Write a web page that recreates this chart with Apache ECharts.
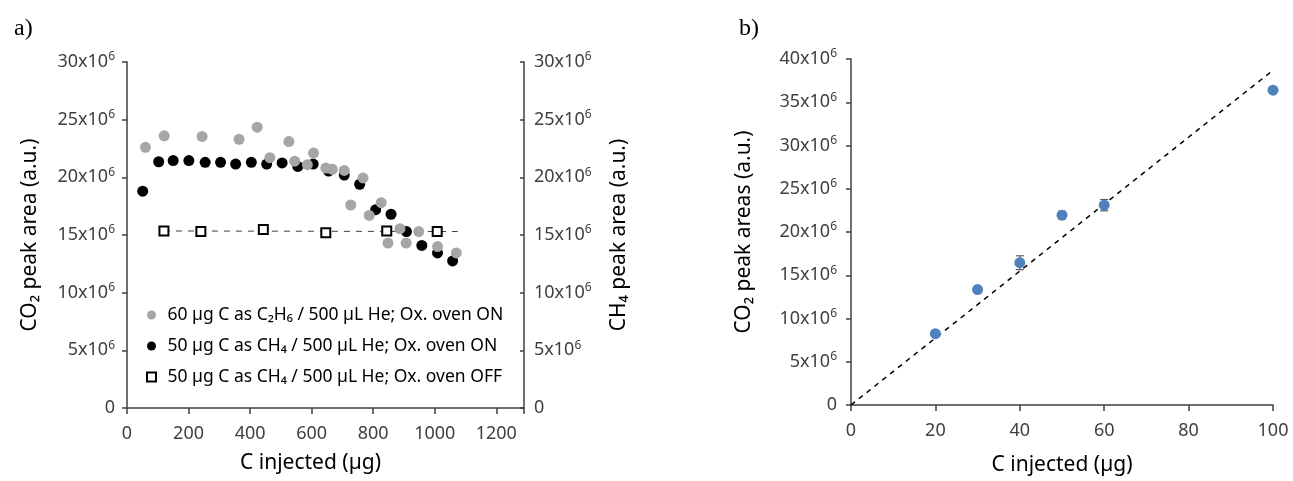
<!DOCTYPE html>
<html><head><meta charset="utf-8">
<script src="https://cdn.jsdelivr.net/npm/echarts@6/dist/echarts.min.js"></script>
<style>html,body{margin:0;padding:0;background:#fff}#c{width:1293px;height:481px}</style>
</head><body><div id="c"></div>
<script>
// ---- Panel a) data (x: µg C injected, y: peak area in 10^6 a.u.) ----
const c2h6X = [60,121,244,364,423,464,526,545,586,606,646,667,706,767,727,787,826,887,848,907,948,1009,1070];
const c2h6Y = [22.6,23.6,23.55,23.3,24.35,21.7,23.1,21.4,21.1,22.1,20.8,20.7,20.6,19.95,17.6,16.7,17.8,15.55,14.3,14.3,15.3,14.0,13.45];
const ch4OnX = [51,103,150,201,254,304,353,404,454,504,555,605,655,706,756,808,858,908,958,1009,1058];
const ch4OnY = [18.8,21.35,21.45,21.45,21.3,21.3,21.15,21.3,21.15,21.25,20.95,21.15,20.55,20.2,19.4,17.2,16.8,15.3,14.1,13.45,12.75];
const ch4OffX = [120,240,443,646,844,1008];
const ch4OffY = [15.35,15.3,15.47,15.2,15.35,15.3];
const ch4OffTrendX = [120,1075];
const ch4OffTrendY = [15.35,15.3];
const leftTicks = [0,5,10,15,20,25,30];
const xTicksA = [0,200,400,600,800,1000,1200];
// ---- Panel b) data ----
const bX = [20,30,40,50,60,100];
const bY = [8.25,13.35,16.45,21.95,23.1,36.4];
const bErr = [0.3,0.2,0.8,0.45,0.65,0.2];
const bTrendX = [0,100];
const bTrendY = [0,38.7];
const leftTicksB = [0,5,10,15,20,25,30,35,40];

const zip = (xs, ys) => xs.map((x, i) => [x, ys[i]]);
const FONT = 'Noto Sans';
const AX = '#404040';
const fmtY = v => v === 0 ? '{m|0}' : '{m|' + v + 'x10}{s|6}';
const rich = {
  m: {fontFamily: FONT, fontSize: 18, color: AX, lineHeight: 22},
  s: {fontFamily: FONT, fontSize: 12, color: AX, verticalAlign: 'top', lineHeight: 22, padding: [0, 0, 6, 0]}
};
const labelStyle = {fontFamily: FONT, fontSize: 18, color: AX};
const nameStyle = {fontFamily: FONT, fontSize: 21, color: '#000'};

const chart = echarts.init(document.getElementById('c'), null, {renderer: 'canvas'});
chart.setOption({
  animation: false,
  backgroundColor: '#fff',
  title: [
    {text: 'a)', left: 9, top: 12, textStyle: {fontFamily: 'Liberation Serif', fontSize: 24, fontWeight: 'normal', color: '#000'}},
    {text: 'b)', left: 734, top: 12, textStyle: {fontFamily: 'Liberation Serif', fontSize: 24, fontWeight: 'normal', color: '#000'}}
  ],
  grid: [
    {left: 127, top: 62, right: 769, bottom: 73},
    {left: 851, top: 59, right: 20, bottom: 74}
  ],
  legend: {
    orient: 'vertical', left: 141, top: 301, itemGap: 13, itemWidth: 22, itemHeight: 9,
    symbolKeepAspect: true,
    textStyle: {fontFamily: FONT, fontSize: 17.5, color: '#000'},
    data: [
      {name: '60 µg C as C₂H₆ / 500 µL He; Ox. oven ON', icon: 'circle'},
      {name: '50 µg C as CH₄ / 500 µL He; Ox. oven ON', icon: 'circle'},
      {name: '50 µg C as CH₄ / 500 µL He; Ox. oven OFF', icon: 'path://M0,0H10V10H0Z'}
    ]
  },
  xAxis: [
    {type: 'value', gridIndex: 0, min: 0, max: 1290, interval: 200,
     axisLine: {lineStyle: {color: AX, width: 1.5}}, axisTick: {length: 6, lineStyle: {color: AX, width: 1.5}},
     splitLine: {show: false},
     axisLabel: Object.assign({margin: 17, formatter: v => xTicksA.includes(v) ? String(v) : ''}, labelStyle),
     name: 'C injected (µg)', nameLocation: 'middle', nameGap: 45, nameTextStyle: Object.assign({padding: [0, 30, 0, 0]}, nameStyle)},
    {type: 'value', gridIndex: 1, min: 0, max: 100, interval: 20,
     axisLine: {lineStyle: {color: AX, width: 1.5}}, axisTick: {length: 6, lineStyle: {color: AX, width: 1.5}},
     splitLine: {show: false},
     axisLabel: Object.assign({margin: 17}, labelStyle),
     name: 'C injected (µg)', nameLocation: 'middle', nameGap: 50, nameTextStyle: nameStyle}
  ],
  yAxis: [
    {type: 'value', gridIndex: 0, min: leftTicks[0], max: leftTicks[leftTicks.length-1], interval: 5, position: 'left',
     axisLine: {show: true, lineStyle: {color: AX, width: 1.5}}, axisTick: {show: true, length: 5, lineStyle: {color: AX, width: 1.5}},
     splitLine: {show: false},
     axisLabel: {margin: 12, formatter: fmtY, rich: rich},
     name: 'CO₂ peak area (a.u.)', nameLocation: 'middle', nameGap: 86, nameTextStyle: nameStyle},
    {type: 'value', gridIndex: 0, min: leftTicks[0], max: leftTicks[leftTicks.length-1], interval: 5, position: 'right',
     axisLine: {show: true, lineStyle: {color: AX, width: 1.5}}, axisTick: {show: true, inside: true, length: 4, lineStyle: {color: AX, width: 1.5}},
     splitLine: {show: false},
     axisLabel: {margin: 10, formatter: fmtY, rich: rich},
     name: 'CH₄ peak area (a.u.)', nameLocation: 'middle', nameGap: 85, nameRotate: 90, nameTextStyle: nameStyle},
    {type: 'value', gridIndex: 1, min: leftTicksB[0], max: leftTicksB[leftTicksB.length-1], interval: 5,
     axisLine: {show: true, lineStyle: {color: AX, width: 1.5}}, axisTick: {show: true, length: 5, lineStyle: {color: AX, width: 1.5}},
     splitLine: {show: false},
     axisLabel: {margin: 14, formatter: fmtY, rich: rich},
     name: 'CO₂ peak areas (a.u.)', nameLocation: 'middle', nameGap: 96, nameTextStyle: nameStyle}
  ],
  series: [
    {name: '50 µg C as CH₄ / 500 µL He; Ox. oven OFF trend', type: 'line', xAxisIndex: 0, yAxisIndex: 0,
     data: zip(ch4OffTrendX, ch4OffTrendY), symbol: 'none', lineStyle: {color: '#404040', width: 1, type: [6, 6]}, z: 1},
    {name: '60 µg C as C₂H₆ / 500 µL He; Ox. oven ON', type: 'scatter', xAxisIndex: 0, yAxisIndex: 0,
     data: zip(c2h6X, c2h6Y), symbol: 'circle', symbolSize: 11, itemStyle: {color: '#a6a6a6', opacity: 1}, z: 3},
    {name: '50 µg C as CH₄ / 500 µL He; Ox. oven ON', type: 'scatter', xAxisIndex: 0, yAxisIndex: 0,
     data: zip(ch4OnX, ch4OnY), symbol: 'circle', symbolSize: 11, itemStyle: {color: '#000', opacity: 1}, z: 2},
    {name: '50 µg C as CH₄ / 500 µL He; Ox. oven OFF', type: 'scatter', xAxisIndex: 0, yAxisIndex: 0,
     data: zip(ch4OffX, ch4OffY), symbol: 'rect', symbolSize: 9, itemStyle: {color: '#fff', borderColor: '#000', borderWidth: 2, opacity: 1}, z: 4},
    {name: 'b trend', type: 'line', xAxisIndex: 1, yAxisIndex: 2,
     data: zip(bTrendX, bTrendY), symbol: 'none', lineStyle: {color: '#000', width: 1.5, type: [5, 5]}, z: 1},
    {name: 'b err', type: 'custom', xAxisIndex: 1, yAxisIndex: 2,
     data: bX.map((x, i) => [x, bY[i] - bErr[i], bY[i] + bErr[i]]),
     renderItem: (params, api) => {
       const lo = api.coord([api.value(0), api.value(1)]);
       const hi = api.coord([api.value(0), api.value(2)]);
       const w = 4;
       const st = {stroke: '#595959', lineWidth: 1.2};
       return {type: 'group', children: [
         {type: 'line', shape: {x1: lo[0], y1: lo[1], x2: hi[0], y2: hi[1]}, style: st},
         {type: 'line', shape: {x1: lo[0]-w, y1: lo[1], x2: lo[0]+w, y2: lo[1]}, style: st},
         {type: 'line', shape: {x1: hi[0]-w, y1: hi[1], x2: hi[0]+w, y2: hi[1]}, style: st}
       ]};
     }, z: 2},
    {name: 'b data', type: 'scatter', xAxisIndex: 1, yAxisIndex: 2,
     data: zip(bX, bY), symbol: 'circle', symbolSize: 11, itemStyle: {color: '#4f81bd', opacity: 1}, z: 3}
  ]
});
</script></body></html>
